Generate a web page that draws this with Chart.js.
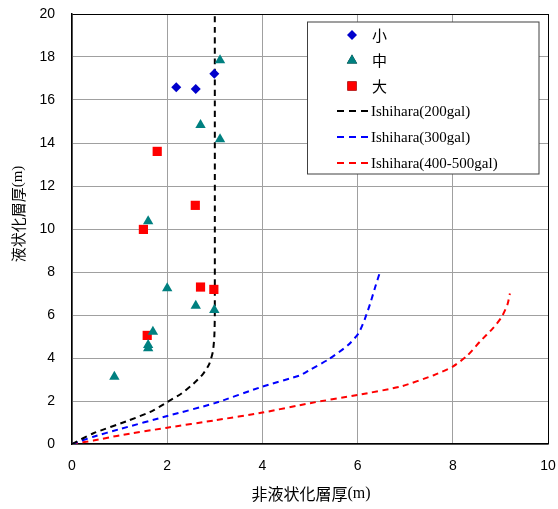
<!DOCTYPE html>
<html><head><meta charset="utf-8">
<script src="https://cdn.jsdelivr.net/npm/chart.js@4/dist/chart.umd.min.js"></script>
<style>html,body{margin:0;padding:0;background:#fff}#wrap{width:558px;height:509px}</style>
</head><body><div id="wrap"><canvas id="c"></canvas></div>
<script>
// Observed points: [non-liquefied thickness, liquefied thickness]
const smallX = [2.19, 2.60, 2.99];
const smallY = [16.59, 16.51, 17.22];
const midX = [3.11, 2.70, 3.11, 1.60, 2.00, 2.60, 2.99, 1.70, 1.60, 1.60, 0.89];
const midY = [17.85, 14.84, 14.17, 10.36, 7.24, 6.43, 6.23, 5.22, 4.60, 4.45, 3.13];
const largeX = [1.79, 2.59, 1.50, 2.70, 2.98, 1.58];
const largeY = [13.61, 11.10, 9.98, 7.30, 7.19, 5.05];
// Ishihara boundary curves
const ish200X = [0, 0.45, 1.2, 1.7, 2.0, 2.3, 2.55, 2.75, 2.88, 2.96, 2.99, 3.0, 3.0];
const ish200Y = [0, 0.5, 1.1, 1.55, 1.95, 2.35, 2.8, 3.25, 3.7, 4.3, 5.0, 6.0, 20];
const ish300X = [0, 0.45, 1.0, 2.0, 3.0, 4.0, 4.8, 5.0, 5.4, 5.8, 6.02, 6.15, 6.26, 6.37, 6.47];
const ish300Y = [0, 0.34, 0.69, 1.3, 1.9, 2.67, 3.2, 3.45, 3.95, 4.6, 5.15, 5.8, 6.5, 7.3, 8.0];
const ish400X = [0, 0.45, 1.0, 2.0, 3.0, 4.0, 5.0, 6.0, 6.9, 7.6, 8.0, 8.3, 8.57, 8.85, 9.03, 9.15, 9.2];
const ish400Y = [0, 0.16, 0.4, 0.76, 1.1, 1.46, 1.9, 2.28, 2.67, 3.2, 3.6, 4.1, 4.76, 5.4, 5.92, 6.5, 7.0];
const labels = ['小', '中', '大', 'Ishihara(200gal)', 'Ishihara(300gal)', 'Ishihara(400-500gal)'];
const xTicks = [0, 2, 4, 6, 8, 10];
const yTicks = [0, 2, 4, 6, 8, 10, 12, 14, 16, 18, 20];

const pts = (xs, ys) => xs.map((x, i) => ({x, y: ys[i]}));
const CJK = '"Noto Sans CJK JP"';
const SERIF = '"Liberation Serif"';

const lineDs = (label, xs, ys, color) => ({
  type: 'line', label, data: pts(xs, ys), borderColor: color, backgroundColor: color,
  borderWidth: 2, borderDash: [6, 4.5], pointRadius: 0, tension: 0.2, fill: false, order: 2
});

const legendPlugin = {
  id: 'customLegend',
  afterDraw(chart) {
    const ctx = chart.ctx;
    const bx = 307.5, by = 22, bw = 231.5, bh = 152;
    ctx.save();
    ctx.fillStyle = '#fff';
    ctx.fillRect(bx, by, bw, bh);
    ctx.strokeStyle = '#404040';
    ctx.lineWidth = 1;
    ctx.strokeRect(bx, by, bw, bh);
    const rows = [35, 60.5, 86, 111, 137, 163];
    chart.data.datasets.forEach((ds, i) => {
      const y = rows[i];
      if (ds.type === 'line') {
        ctx.strokeStyle = ds.borderColor;
        ctx.lineWidth = 2;
        ctx.setLineDash([7, 5]);
        ctx.beginPath(); ctx.moveTo(337, y); ctx.lineTo(369, y); ctx.stroke();
        ctx.setLineDash([]);
        ctx.fillStyle = '#000';
        ctx.font = '15px ' + SERIF;
        ctx.textBaseline = 'middle';
        ctx.fillText(ds.label, 371, y + 1);
      } else {
        Chart.helpers.drawPoint(ctx, {pointStyle: ds.pointStyle, radius: ds.pointRadius, borderWidth: 0}, 352, y);
        ctx.fillStyle = ds.backgroundColor;
        ctx.fill();
        ctx.fillStyle = '#000';
        ctx.font = '15px ' + CJK;
        ctx.textBaseline = 'middle';
        ctx.fillText(ds.label, 372, y);
      }
    });
    // axis titles
    ctx.fillStyle = '#000';
    ctx.textBaseline = 'middle';
    const xt1 = '非液状化層厚', xt2 = '(m)';
    ctx.font = '16px ' + CJK; const w1 = ctx.measureText(xt1).width;
    ctx.font = '16px ' + SERIF; const w2 = ctx.measureText(xt2).width;
    let sx = 311 - (w1 + w2) / 2;
    ctx.font = '16px ' + CJK; ctx.fillText(xt1, sx, 494);
    ctx.font = '16px ' + SERIF; ctx.fillText(xt2, sx + w1, 494);
    ctx.translate(18, 214);
    ctx.rotate(-Math.PI / 2);
    const yt1 = '液状化層厚';
    ctx.font = '15px ' + CJK; const v1 = ctx.measureText(yt1).width;
    ctx.font = '15px ' + SERIF; const v2 = ctx.measureText(xt2).width;
    let sy = -(v1 + v2) / 2;
    ctx.font = '15px ' + CJK; ctx.fillText(yt1, sy, 0);
    ctx.font = '15px ' + SERIF; ctx.fillText(xt2, sy + v1, 0);
    ctx.restore();
  }
};

const gridColor = (max) => (c) => (c.tick && c.tick.value === max) ? '#000' : '#a0a0a0';

new Chart(document.getElementById('c'), {
  type: 'scatter',
  data: {
    datasets: [
      {label: labels[0], data: pts(smallX, smallY), pointStyle: 'rectRot', pointRadius: 5, pointHoverRadius: 5, backgroundColor: '#0000cc', borderColor: '#0000cc', borderWidth: 0, order: 1},
      {label: labels[1], data: pts(midX, midY), pointStyle: 'triangle', pointRadius: 6, pointHoverRadius: 6, backgroundColor: '#008080', borderColor: '#008080', borderWidth: 0, order: 1},
      {label: labels[2], data: pts(largeX, largeY), pointStyle: 'rect', pointRadius: 6.5, pointHoverRadius: 6.5, backgroundColor: '#ff0000', borderColor: '#ff0000', borderWidth: 0, order: 1},
      lineDs(labels[3], ish200X, ish200Y, '#000000'),
      lineDs(labels[4], ish300X, ish300Y, '#0000ff'),
      lineDs(labels[5], ish400X, ish400Y, '#ff0000')
    ]
  },
  options: {
    responsive: true, maintainAspectRatio: false, animation: false,
    layout: {padding: {left: 0, right: 10, top: 14, bottom: 0}},
    plugins: {legend: {display: false}, tooltip: {enabled: false}},
    scales: {
      x: {
        type: 'linear', min: 0, max: 10,
        afterBuildTicks: (s) => { s.ticks = xTicks.map(v => ({value: v})); },
        afterFit: (s) => { s.height = 65; s.paddingRight = 0; s.paddingLeft = 0; },
        ticks: {padding: 14, color: '#000', font: {family: '"Liberation Sans"', size: 14}},
        grid: {color: gridColor(10), lineWidth: 1, drawTicks: false},
        border: {color: '#000', width: 1.5}
      },
      y: {
        type: 'linear', min: 0, max: 20,
        afterBuildTicks: (s) => { s.ticks = yTicks.map(v => ({value: v})); },
        afterFit: (s) => { s.width = 72; s.paddingTop = 0; s.paddingBottom = 0; },
        ticks: {padding: 17, color: '#000', font: {family: '"Liberation Sans"', size: 14}},
        grid: {color: gridColor(20), lineWidth: 1, drawTicks: false},
        border: {color: '#000', width: 1.5}
      }
    }
  },
  plugins: [legendPlugin]
});
</script></body></html>
